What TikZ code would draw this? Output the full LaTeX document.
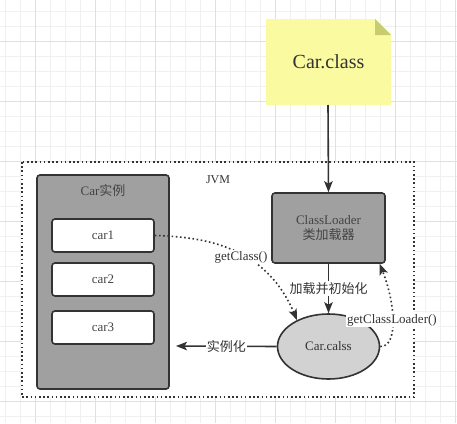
\documentclass[tikz,border=0pt]{standalone}
\usepackage{fontspec}
\setmainfont{Liberation Serif}
\newfontfamily\cjk{Noto Sans CJK SC}
\usetikzlibrary{arrows.meta,shapes.geometric}
\definecolor{gridminor}{HTML}{F0F0F0}
\definecolor{gridmajor}{HTML}{E0E0E0}
\definecolor{notefill}{HTML}{FAFAA0}
\definecolor{notefold}{HTML}{C8CC70}
\definecolor{boxgray}{HTML}{A0A0A0}
\definecolor{ellgray}{HTML}{D2D2D2}
\definecolor{ink}{HTML}{333333}
\definecolor{txt}{HTML}{444444}
\tikzset{
  frame/.style={draw=ink, line width=1.6pt, rounded corners=3pt},
  carbox/.style={frame, fill=white, minimum width=102pt, minimum height=33pt, font=\fontsize{13}{15}\selectfont, text=txt},
  conn/.style={draw=ink, line width=1.6pt, -{Stealth[length=11pt,width=8.5pt,inset=2.5pt]}},
  dotconn/.style={draw=ink, line width=1.6pt, dash pattern=on 1.6pt off 2.6pt, -{Stealth[length=11pt,width=8.5pt,inset=2.5pt]}},
  lbl/.style={fill=white, inner sep=1pt, text=ink, font=\fontsize{13}{15}\selectfont},
}
\begin{document}
\begin{tikzpicture}[x=1pt,y=-1pt]
\useasboundingbox (0,0) rectangle (457,423);
\fill[white] (0,0) rectangle (457,423);
% grid
\foreach \x in {5,20,...,455} \draw[gridminor, line width=1pt] (\x,0) -- (\x,423);
\foreach \y in {11.7,26.7,...,420} \draw[gridminor, line width=1pt] (0,\y) -- (457,\y);
\foreach \x in {35,95,...,455} \draw[gridmajor, line width=1pt] (\x,0) -- (\x,423);
\foreach \y in {41.7,101.7,...,420} \draw[gridmajor, line width=1pt] (0,\y) -- (457,\y);
% note
\fill[notefill] (266,19) -- (375,19) -- (391,35) -- (391,105) -- (266,105) -- cycle;
\fill[notefold] (375,19) -- (391,35) -- (375,35) -- cycle;
\node[font=\fontsize{20}{24}\selectfont, text=ink] (note) at (328.5,62) {Car.class};
\coordinate (noteb) at (328,105);
% JVM frame
\draw[fill=white, draw=ink, line width=1.6pt, dash pattern=on 1.6pt off 2.6pt] (22,162) rectangle (414,397);
\node[font=\fontsize{12}{14}\selectfont, text=ink] (jvm) at (218,180) {JVM};
% Car instances container
\draw[frame, fill=boxgray] (37,175) rectangle (169,389);
\node[font=\fontsize{13}{15}\selectfont, text=txt] (carinst) at (103,191) {Car{\cjk 实例}};
\node[carbox] (car1) at (103,235.5) {car1};
\node[carbox] (car2) at (103,279.5) {car2};
\node[carbox] (car3) at (103,327.5) {car3};
% ClassLoader
\node[frame, fill=boxgray, minimum width=113pt, minimum height=70pt, align=center, text=txt, font=\fontsize{13}{16}\selectfont] (cl) at (328.5,228) {ClassLoader\\[-1pt]{\cjk 类加载器}};
% ellipse
\node[ellipse, draw=ink, line width=1.6pt, fill=ellgray, minimum width=102pt, minimum height=65pt, inner sep=0pt, text=ink, font=\fontsize{13}{15}\selectfont] (cc) at (328.5,346.5) {Car.calss};
% arrows
\draw[conn] (noteb) -- (cl.north);
\draw[conn] (cl.south) -- node[lbl] (lload) {\cjk 加载并初始化} (cc.north);
\coordinate (instend) at (176,346);
\draw[conn] (cc.west) -- node[lbl, pos=0.5] (linst) {\cjk 实例化} (instend);
\draw[dotconn] (car1.east) .. controls (215,237) and (268,252) .. (cc.140);
\node[lbl] (lgc) at (241,257) {getClass()};
\draw[dotconn] (cc.east) .. controls (398,347) and (396,305) .. (cl.-35);
\node[lbl, anchor=west] (lgcl) at (346,320) {getClassLoader()};
\end{tikzpicture}
\end{document}
